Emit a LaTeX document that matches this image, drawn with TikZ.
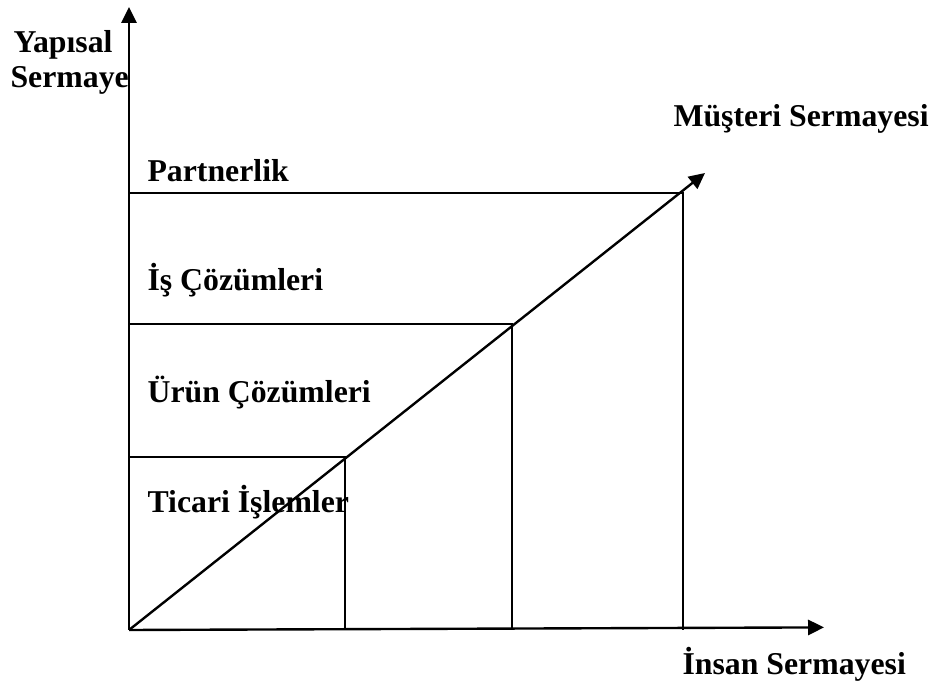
\documentclass[tikz,border=0pt]{standalone}
\usepackage{fontspec}
\setmainfont{Liberation Serif}
\usetikzlibrary{arrows.meta}
\definecolor{ink}{HTML}{000000}
\tikzset{
  axisline/.style={-{Triangle[length=2mm,width=1.9mm]},line width=.85pt,draw=ink},
  gridline/.style={line width=.8pt,draw=ink},
  tag/.style={anchor=base west,inner sep=0pt,text=ink,
    font=\fontsize{11.3}{13.5}\selectfont\bfseries},
}
\begin{document}
\begin{tikzpicture}[x=1cm,y=1cm]
  \useasboundingbox (0,0) rectangle (11.675,8.6125);

  % Axes and the rising diagonal.
  \coordinate (O) at (1.6125,.7375);
  \coordinate (ytip) at (1.6125,8.525);
  \coordinate (xtip) at (10.30,.77);
  \coordinate (dtip) at (8.8125,6.45);
  \draw[axisline] (O) -- (ytip);
  \draw[axisline] (O) -- (xtip);
  \draw[axisline] (O) -- (dtip);

  % Nested steps: corner on the diagonal, foot on x, start on y.
  \foreach \n/\x/\y in {a/4.3125/2.9,b/6.4/4.5625,c/8.5375/6.2}
  {\coordinate (corner\n) at (\x,\y);
   \coordinate (foot\n) at (\x,.7375);
   \coordinate (start\n) at (1.6125,\y);
   \draw[gridline] (start\n) -- (corner\n) -- (foot\n);}

  \node[tag] (yap) at (.1625,7.95) {Yapısal};
  \node[tag] (ser) at (.125,7.5125) {Sermaye};
  \node[tag] (mus) at (8.4125,7.025) {Müşteri Sermayesi};
  \node[tag] (ins) at (8.525,.175) {İnsan Sermayesi};
  \node[tag] (par) at (1.8375,6.3375) {Partnerlik};
  \node[tag] (isc) at (1.8375,4.975) {İş Çözümleri};
  \node[tag] (urc) at (1.8375,3.575) {Ürün Çözümleri};
  \node[tag] (tic) at (1.8375,2.2) {Ticari İşlemler};
\end{tikzpicture}
\end{document}
